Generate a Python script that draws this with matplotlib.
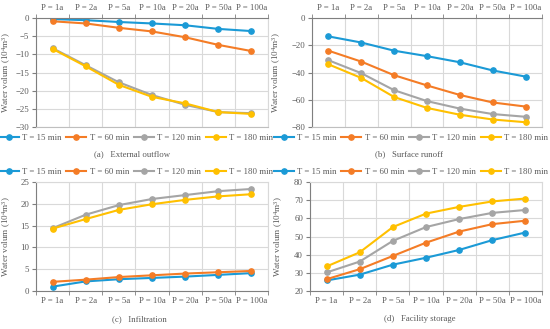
import matplotlib
matplotlib.use("Agg")
import matplotlib.pyplot as plt

plt.rcParams['font.family'] = ['Liberation Serif', 'DejaVu Serif']
plt.rcParams['mathtext.fontset'] = 'custom'
plt.rcParams['mathtext.rm'] = 'Liberation Serif'
plt.rcParams['mathtext.it'] = 'Liberation Serif:italic'

periods = ['P = 1a', 'P = 2a', 'P = 5a', 'P = 10a', 'P = 20a', 'P = 50a', 'P = 100a']
durations = ['T = 15 min', 'T = 60 min', 'T = 120 min', 'T = 180 min']

# (a) External outflow
outflow_15 = [-0.3, -0.6, -1.1, -1.5, -2.0, -3.0, -3.6]
outflow_60 = [-0.9, -1.5, -2.7, -3.7, -5.3, -7.4, -9.1]
outflow_120 = [-8.3, -13.0, -17.7, -21.2, -23.9, -25.9, -26.2]
outflow_180 = [-8.5, -13.3, -18.4, -21.7, -23.5, -25.9, -26.4]

# (b) Surface runoff
runoff_15 = [-13.5, -18.0, -24.0, -28.0, -32.5, -38.5, -43.0]
runoff_60 = [-24.0, -32.0, -42.0, -49.5, -56.5, -62.0, -65.0]
runoff_120 = [-31.0, -40.5, -53.0, -61.0, -66.5, -70.5, -72.5]
runoff_180 = [-34.0, -44.0, -58.0, -66.0, -71.0, -74.5, -76.5]

# (c) Infiltration
infil_15 = [1.0, 2.2, 2.7, 3.0, 3.3, 3.7, 4.1]
infil_60 = [2.1, 2.6, 3.2, 3.6, 4.0, 4.3, 4.6]
infil_120 = [14.4, 17.5, 19.7, 21.1, 22.0, 22.9, 23.4]
infil_180 = [14.3, 16.5, 18.6, 19.9, 20.9, 21.7, 22.2]

# (d) Facility storage
storage_15 = [25.8, 29.0, 34.5, 38.3, 42.6, 48.0, 52.2]
storage_60 = [26.5, 32.0, 39.3, 46.6, 52.7, 56.8, 58.7]
storage_120 = [30.2, 36.2, 47.6, 55.2, 59.6, 63.0, 64.6]
storage_180 = [33.5, 41.3, 55.2, 62.6, 66.3, 69.3, 70.9]

colors = ['#1B9AD6', '#F47C26', '#A5A5A5', '#FFC000']
text_col = '#595959'
grid_col = '#D9D9D9'
fs = 6.3

fig = plt.figure(figsize=(5.5, 3.29), dpi=100)


def panel(rect, series, ylim, step, top_axis, caption, cap_x, cap_y, leg_x, leg_y, ylab_x):
    ax = fig.add_axes(rect)
    x = range(len(periods))
    for vals, lab, c in zip(series, durations, colors):
        ax.plot(x, vals, color=c, lw=1.5, marker='o', ms=3.8, label=lab)
    ax.set_xlim(-0.5, len(periods) - 0.5)
    ax.set_ylim(*ylim)
    lo, hi = min(ylim), max(ylim)
    ax.set_yticks(range(int(lo), int(hi) + 1, step))
    ax.set_xticks(list(x))
    ax.set_xticklabels(periods)
    ax.set_xticks([i + 0.5 for i in range(-1, len(periods))], minor=True)
    ax.grid(True, which='minor', axis='x', color=grid_col, lw=0.8)
    ax.grid(True, which='major', axis='y', color=grid_col, lw=0.8)
    ax.set_axisbelow(True)
    ax.tick_params(axis='x', which='major', length=0, labelsize=fs, colors=text_col, pad=4)
    ax.tick_params(axis='x', which='minor', length=3, color='#7F7F7F')
    ax.tick_params(axis='y', length=3, labelsize=fs, colors=text_col, color='#7F7F7F', pad=2)
    if top_axis:
        ax.xaxis.tick_top()
        ax.xaxis.set_tick_params(which='both', top=True, bottom=False)
        ax.spines['top'].set_color('#7F7F7F')
        ax.spines['bottom'].set_color('#BFBFBF')
    else:
        ax.spines['bottom'].set_color('#7F7F7F')
        ax.spines['top'].set_color(grid_col)
    ax.spines['left'].set_color('#7F7F7F')
    ax.spines['right'].set_color(grid_col)
    ax.set_ylabel(r'Water volum (10$^4$m$^3$)', fontsize=fs + 0.3, color=text_col)
    ax.yaxis.set_label_coords(ylab_x, 0.5)
    fig.legend(*ax.get_legend_handles_labels(), loc='center',
               bbox_to_anchor=(leg_x, leg_y),
               ncol=4, frameon=False, fontsize=fs, handlelength=2.3,
               handletextpad=0.4, columnspacing=0.5, labelcolor=text_col,
               borderaxespad=0, borderpad=0)
    fig.text(cap_x, cap_y, caption, ha='center', va='center', fontsize=fs, color=text_col)
    return ax


panel([36 / 550, 1 - 127 / 329, 232 / 550, 109 / 329],
      [outflow_15, outflow_60, outflow_120, outflow_180], (-30, 0), 5, True,
      '(a)   External outflow', 132 / 550, 1 - 154 / 329, 136 / 550, 1 - 138 / 329, -0.10)
panel([312 / 550, 1 - 127 / 329, 230 / 550, 109 / 329],
      [runoff_15, runoff_60, runoff_120, runoff_180], (-80, 0), 20, True,
      '(b)   Surface runoff', 409 / 550, 1 - 154 / 329, 411 / 550, 1 - 138 / 329, -0.125)
panel([36 / 550, 1 - 291 / 329, 232 / 550, 109 / 329],
      [infil_15, infil_60, infil_120, infil_180], (0, 25), 5, False,
      '(c)   Infiltration', 139 / 550, 1 - 319 / 329, 136 / 550, 1 - 172 / 329, -0.10)
panel([310 / 550, 1 - 291 / 329, 232 / 550, 109 / 329],
      [storage_15, storage_60, storage_120, storage_180], (20, 80), 10, False,
      '(d)   Facility storage', 420 / 550, 1 - 319 / 329, 411 / 550, 1 - 172 / 329, -0.107)

fig.savefig('out.png', dpi=100)
